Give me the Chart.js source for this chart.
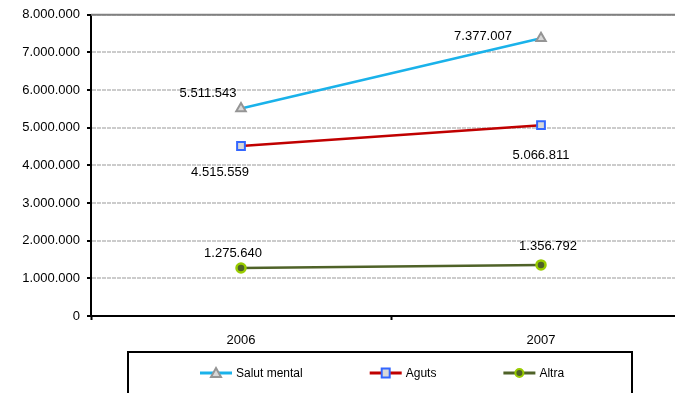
<!DOCTYPE html>
<html>
<head>
<meta charset="utf-8">
<script src="https://cdn.jsdelivr.net/npm/chart.js@4.4.1/dist/chart.umd.min.js"></script>
<style>
  body { margin: 0; overflow: hidden; background: #fff; }
  #wrap { width: 700px; height: 393px; }
</style>
</head>
<body>
<div id="wrap"><canvas id="costChart" width="700" height="393"></canvas></div>
<script>
// anys i series
const years = ['2006', '2007'];
const salutMental = [5511543, 7377007];
const aguts = [4515559, 5066811];
const altra = [1275640, 1356792];
const yTicks = [0, 1000000, 2000000, 3000000, 4000000, 5000000, 6000000, 7000000, 8000000];

// where each value label sits relative to its point
const labelOffsets = [
    [[-33, -15], [-58, -2]],
    [[-21, 26], [0, 30]],
    [[-8, -15], [7, -18]]
];

function fmt(v) {
    return String(Math.round(v)).replace(/\B(?=(\d{3})+(?!\d))/g, '.');
}

Chart.defaults.font.family = 'Arial, "Liberation Sans", sans-serif';
Chart.defaults.font.size = 13;
Chart.defaults.color = '#000';

// value labels next to points
const valueLabels = {
    id: 'valueLabels',
    afterDatasetsDraw(chart) {
        const c = chart.ctx;
        c.save();
        c.font = '13px Arial, "Liberation Sans", sans-serif';
        c.fillStyle = '#000';
        c.textAlign = 'center';
        c.textBaseline = 'middle';
        chart.data.datasets.forEach((ds, i) => {
            chart.getDatasetMeta(i).data.forEach((pt, j) => {
                const off = labelOffsets[i][j];
                c.fillText(fmt(ds.data[j]), pt.x + off[0], pt.y + off[1]);
            });
        });
        c.restore();
    }
};

// top border of the plot area
const topBorder = {
    id: 'topBorder',
    beforeDatasetsDraw(chart) {
        const c = chart.ctx;
        const a = chart.chartArea;
        c.save();
        c.strokeStyle = '#808080';
        c.lineWidth = 2;
        c.beginPath();
        c.moveTo(a.left, a.top);
        c.lineTo(chart.width, a.top);
        c.stroke();
        c.restore();
    }
};

function drawMarker(c, style, x, y, ds) {
    c.save();
    c.strokeStyle = ds.pointBorderColor;
    c.fillStyle = ds.pointBackgroundColor;
    c.lineWidth = 2;
    c.beginPath();
    if (style === 'triangle') {
        c.moveTo(x, y - 5);
        c.lineTo(x + 5, y + 4);
        c.lineTo(x - 5, y + 4);
        c.closePath();
    } else if (style === 'rect') {
        c.rect(x - 4, y - 4.5, 8, 9);
    } else {
        c.arc(x, y, 4, 0, Math.PI * 2);
    }
    c.fill();
    c.stroke();
    c.restore();
}

// boxed legend under the axis
const boxLegend = {
    id: 'boxLegend',
    afterDraw(chart) {
        const c = chart.ctx;
        c.save();
        c.strokeStyle = '#000';
        c.lineWidth = 2;
        c.strokeRect(128, 352, 504, 60);
        c.font = '12px Arial, "Liberation Sans", sans-serif';
        c.textBaseline = 'middle';
        c.textAlign = 'left';
        let x = 200;
        const y = 373;
        chart.data.datasets.forEach(ds => {
            c.strokeStyle = ds.borderColor;
            c.lineWidth = 3;
            c.beginPath();
            c.moveTo(x, y);
            c.lineTo(x + 32, y);
            c.stroke();
            drawMarker(c, ds.pointStyle, x + 16, y, ds);
            c.fillStyle = '#000';
            c.fillText(ds.label, x + 36, y + 1);
            x += 36 + c.measureText(ds.label).width + 67;
        });
        c.restore();
    }
};

const ctx = document.getElementById('costChart').getContext('2d');

const costChart = new Chart(ctx, {
    type: 'line',
    data: {
        labels: years,
        datasets: [{
            label: 'Salut mental',
            data: salutMental,
            borderColor: '#1ab2ea',
            borderWidth: 2.5,
            pointStyle: 'triangle',
            pointRadius: 5.5,
            pointBorderColor: '#959595',
            pointBackgroundColor: '#d8d8d8',
            pointBorderWidth: 2
        }, {
            label: 'Aguts',
            data: aguts,
            borderColor: '#c00000',
            borderWidth: 2.5,
            pointStyle: 'rect',
            pointRadius: 5.5,
            pointBorderColor: '#3366ff',
            pointBackgroundColor: '#d8d8d8',
            pointBorderWidth: 2
        }, {
            label: 'Altra',
            data: altra,
            borderColor: '#4f6228',
            borderWidth: 2.5,
            pointStyle: 'circle',
            pointRadius: 4.5,
            pointBorderColor: '#99cc00',
            pointBackgroundColor: '#4f6228',
            pointBorderWidth: 2.5
        }]
    },
    options: {
        responsive: false,
        animation: false,
        layout: { padding: { top: 14, right: 9, left: 0, bottom: 0 } },
        plugins: {
            legend: { display: false },
            tooltip: { enabled: false }
        },
        scales: {
            x: {
                offset: true,
                afterFit: s => { s.height = 77; },
                grid: {
                    drawOnChartArea: false,
                    offset: true,
                    tickLength: 4,
                    tickWidth: 2,
                    tickColor: '#000'
                },
                border: { color: '#000', width: 2 },
                ticks: { padding: 13, font: { size: 13 } }
            },
            y: {
                min: 0,
                max: 8000000,
                afterFit: s => { s.width = 91; },
                afterBuildTicks: s => { s.ticks = yTicks.map(v => ({ value: v })); },
                grid: {
                    color: '#cccccc',
                    lineWidth: 2,
                    tickLength: 4,
                    tickWidth: 2,
                    tickColor: '#000'
                },
                border: { color: '#000', width: 2, dash: [4, 1] },
                ticks: {
                    padding: 7,
                    font: { size: 13 },
                    callback: v => fmt(v)
                }
            }
        }
    },
    plugins: [topBorder, valueLabels, boxLegend]
});
</script>
</body>
</html>
